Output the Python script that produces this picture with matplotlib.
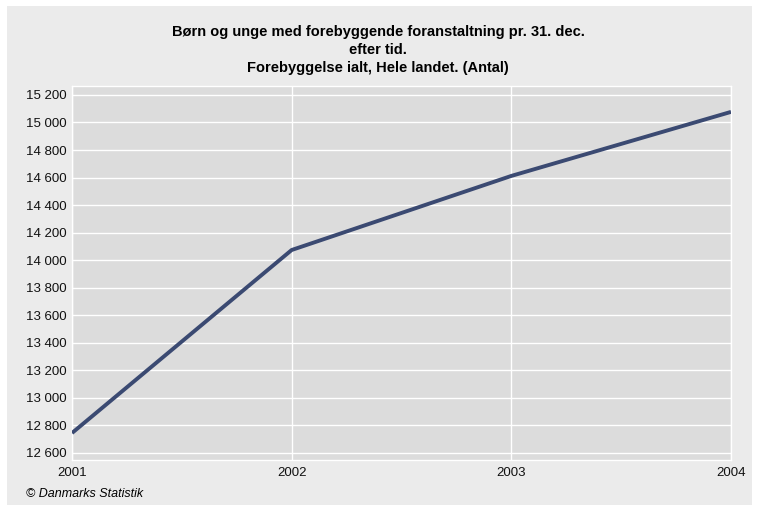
import numpy as np
import matplotlib.pyplot as plt
from matplotlib.patches import Rectangle
from matplotlib.ticker import FuncFormatter

years = [2001, 2002, 2003, 2004]
antal = [12745, 14074, 14612, 15077]
yticks = list(range(12600, 15201, 200))

plt.rcParams['font.family'] = ['Liberation Sans', 'DejaVu Sans']

W, H = 757, 509
fig = plt.figure(figsize=(W / 100, H / 100), dpi=100)
fig.patch.set_facecolor('white')
# grå baggrund med hvid kant
bg = fig.add_axes([0, 0, 1, 1], zorder=-1)
bg.axis('off')
bg.add_patch(Rectangle((7 / W, 4 / H), 745 / W, 499 / H, transform=bg.transAxes,
                       facecolor='#ebebeb', edgecolor='none'))

ax = fig.add_axes([72 / W, 1 - 460 / H, 659 / W, 374 / H])
ax.set_facecolor('#dcdcdc')
ax.plot(years, antal, color='#3b4a72', lw=2.8, solid_capstyle='butt', zorder=3)

ax.set_xlim(2001, 2004)
ax.set_ylim(12549, 15265)
ax.set_xticks(years)
ax.set_yticks(yticks)
ax.yaxis.set_major_formatter(FuncFormatter(lambda v, p: f'{int(v):,}'.replace(',', ' ')))
ax.grid(True, color='white', lw=1)
ax.set_axisbelow(True)
for s in ax.spines.values():
    s.set_color('white')
    s.set_linewidth(1)
ax.tick_params(length=0, labelsize=9.5, colors='#111111')
ax.tick_params(axis='y', pad=4)
ax.tick_params(axis='x', pad=5)

fig.text(378 / W, 1 - 25 / H, 'Børn og unge med forebyggende foranstaltning pr. 31. dec.\nefter tid.\nForebyggelse ialt, Hele landet. (Antal)',
         ha='center', va='top', fontsize=10.5, fontweight='bold', linespacing=1.38)
fig.text(26 / W, 1 - 494 / H, '© Danmarks Statistik', ha='left', va='center', fontsize=9, style='italic')

fig.savefig('out.png', dpi=100, facecolor=fig.get_facecolor())
